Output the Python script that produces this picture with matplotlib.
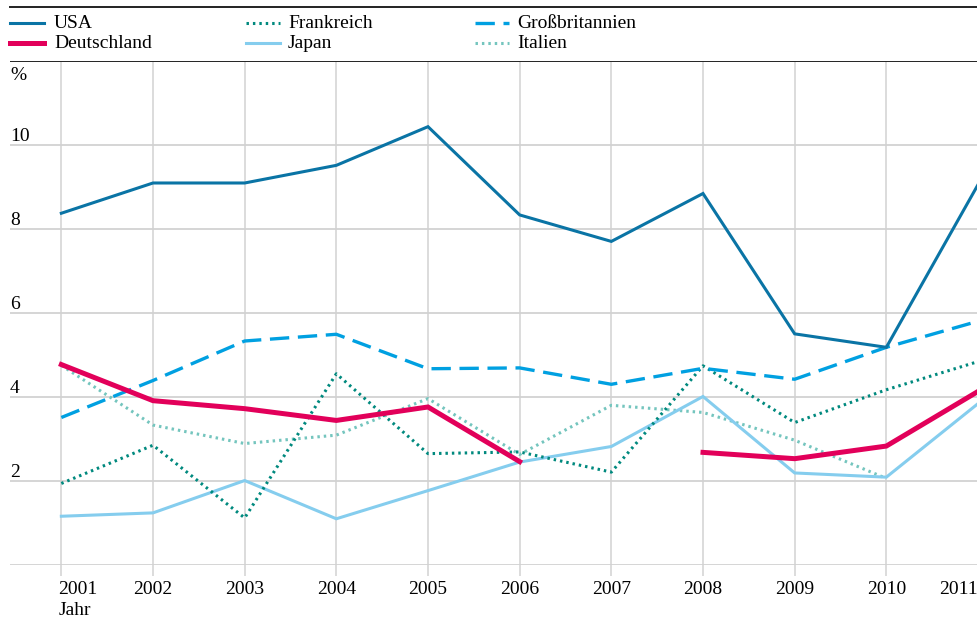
import matplotlib
matplotlib.use('Agg')
import matplotlib.pyplot as plt
from matplotlib.lines import Line2D
import numpy as np

plt.rcParams['font.family'] = ['Liberation Serif', 'DejaVu Serif']
plt.rcParams['font.size'] = 14

years = [2001, 2002, 2003, 2004, 2005, 2006, 2007, 2008, 2009, 2010, 2011]

usa = [8.37, 9.09, 9.09, 9.51, 10.43, 8.33, 7.70, 8.84, 5.50, 5.18, 9.05]
deutschland = [4.77, 3.91, 3.72, 3.44, 3.76, 2.46, np.nan, 2.68, 2.53, 2.83, 4.13]
frankreich = [1.94, 2.85, 1.12, 4.55, 2.65, 2.69, 2.21, 4.74, 3.39, 4.17, 4.84]
japan = [1.16, 1.24, 2.01, 1.10, 1.77, 2.45, 2.82, 4.01, 2.19, 2.09, 3.84]
grossbritannien = [3.51, 4.39, 5.33, 5.49, 4.67, 4.69, 4.30, 4.68, 4.42, 5.18, 5.80]
italien = [4.75, 3.33, 2.89, 3.09, 3.96, 2.63, 3.80, 3.63, 2.97, 2.06, np.nan]

y_ticks = [2, 4, 6, 8, 10]

# (label, values, colour, width, dash)
series = [
    ("USA", usa, "#0a74a5", 2.2, "-"),
    ("Deutschland", deutschland, "#e2005a", 3.6, "-"),
    ("Frankreich", frankreich, "#00897e", 2.2, (0, (0.8, 1.3))),
    ("Japan", japan, "#85cdee", 2.2, "-"),
    ("Großbritannien", grossbritannien, "#00a0e1", 2.4, (0, (5.8, 2.6))),
    ("Italien", italien, "#74c5be", 2.2, (0, (0.8, 1.3))),
]

W, H = 978, 623
fig = plt.figure(figsize=(W / 100, H / 100), dpi=100)
ax = fig.add_axes([10 / W, (H - 565) / H, 1 - 10 / W, (565 - 60.7) / H])
ax.set_xlim(2000.44, 2011.0)
ax.set_ylim(0, 12)
ax.axis('off')

grid_c = "#d2d2d2"
for v in [0] + y_ticks:
    ax.axhline(v, color=grid_c, lw=1.3, zorder=0)
ax.vlines(years, -0.25, 12, color=grid_c, lw=1.1, clip_on=False, zorder=0)
ax.axhline(12, color="#222222", lw=1.4, zorder=1)

# light lines beneath, main ones on top
draw_order = ["Italien", "Japan", "Frankreich", "Großbritannien", "Deutschland", "USA"]
lookup = {s[0]: s for s in series}
for name in draw_order:
    label, vals, col, lw, ls = lookup[name]
    ax.plot(years, vals, color=col, lw=lw, linestyle=ls, zorder=3,
            solid_joinstyle='miter', clip_on=False)

# y labels sitting on top of their gridlines
for v in y_ticks:
    ax.text(2000.44, v + 0.1, str(v), ha='left', va='baseline', fontsize=14)
ax.text(2000.44, 11.53, "%", ha='left', va='baseline', fontsize=14)

# year labels
for i, yr in enumerate(years):
    ha = 'left' if i == 0 else ('right' if i == len(years) - 1 else 'center')
    xpos = yr - 0.03 if i == 0 else yr
    ax.text(xpos, -0.694, str(yr), ha=ha, va='baseline', fontsize=14)
ax.text(2001 - 0.03, -1.2, "Jahr", ha='left', va='baseline', fontsize=14)

# legend block between the two rules at the top
fig.add_artist(Line2D([10 / W, 1], [1 - 6.7 / H, 1 - 6.7 / H], color="#222222", lw=1.4))
legend_cols = [(10, 54), (246, 288), (475, 517)]
legend_rows = [23, 43]
legend_layout = [["USA", "Deutschland"], ["Frankreich", "Japan"], ["Großbritannien", "Italien"]]
for (hx, tx), names in zip(legend_cols, legend_layout):
    for ry, name in zip(legend_rows, names):
        label, vals, col, lw, ls = lookup[name]
        yf = 1 - ry / H
        fig.add_artist(Line2D([hx / W, (hx + 34) / W], [yf, yf], color=col,
                              lw=lw, linestyle=ls))
        fig.text(tx / W, yf, label, ha='left', va='center', fontsize=14)

fig.savefig("out.png", dpi=100)
